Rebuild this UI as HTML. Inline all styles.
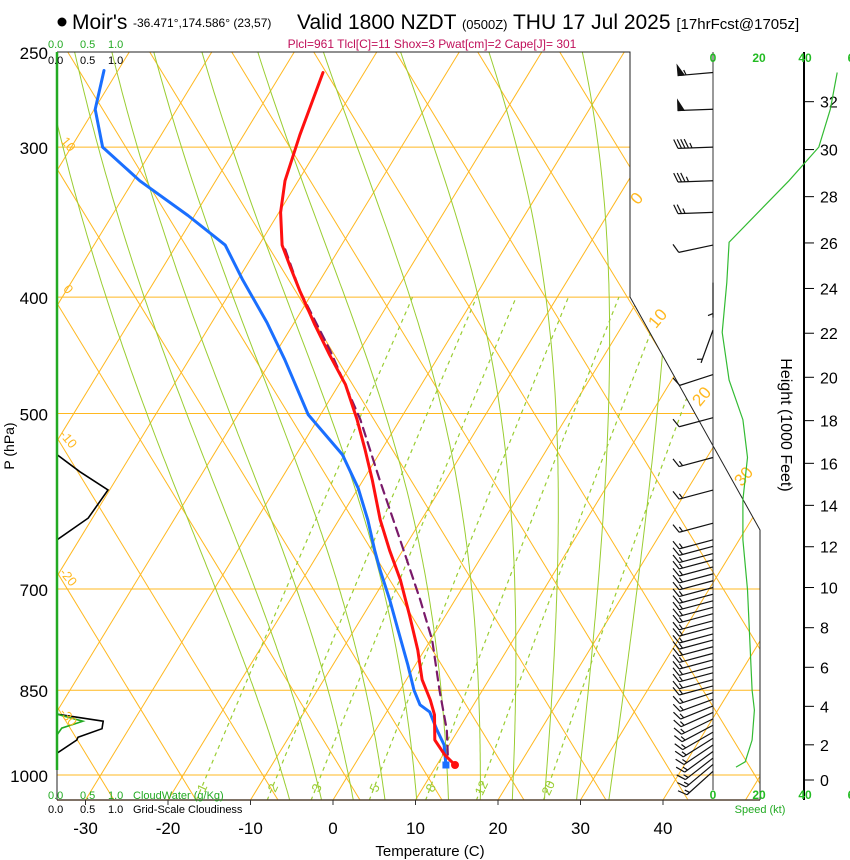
<!DOCTYPE html>
<html><head><meta charset="utf-8"><style>
html,body{margin:0;padding:0;background:#fff;}
svg{display:block;font-family:"Liberation Sans",Arial,sans-serif;}
</style></head><body>
<svg id="chart" width="850" height="860" viewBox="0 0 850 860" xmlns="http://www.w3.org/2000/svg">
<defs><clipPath id="plotclip"><polygon points="57,52 630,52 630,297 760,530 760,800 57,800"/></clipPath></defs>
<g>
<circle cx="62" cy="22" r="4.5" fill="#000"/>
<text x="72" y="29" font-size="21">Moir's</text>
<text x="133" y="27" font-size="12">-36.471°,174.586° (23,57)</text>
<text x="297" y="29" font-size="21">Valid 1800 NZDT <tspan font-size="13">(0500Z)</tspan> THU 17 Jul 2025 <tspan font-size="15">[17hrFcst@1705z]</tspan></text>
<text x="432" y="48" font-size="12" fill="#c0105a" text-anchor="middle">Plcl=961 Tlcl[C]=11 Shox=3 Pwat[cm]=2 Cape[J]= 301</text>
</g>
<g id="grid" clip-path="url(#plotclip)"></g>
<g id="series" clip-path="url(#plotclip)"></g>
<g id="frame">
<polyline points="57,52 630,52 630,297 760,530 760,800" fill="none" stroke="#222" stroke-width="1"/>
<line x1="57" y1="800" x2="760" y2="800" stroke="#543" stroke-width="1.5"/>
<line x1="57" y1="52" x2="57" y2="800" stroke="#222" stroke-width="1"/>
<line x1="57" y1="52" x2="57" y2="770" stroke="#22aa22" stroke-width="2.5"/>
</g>
<g id="labels">
<text x="8" y="440" font-size="14" transform="rotate(-90 14 440)" text-anchor="middle">P (hPa)</text>
<text x="430" y="856" font-size="15" text-anchor="middle">Temperature (C)</text>
<text x="781" y="425" font-size="16" transform="rotate(90 781 425)" text-anchor="middle">Height (1000 Feet)</text>
<g font-size="11" fill="#22aa22"><text x="48" y="48">0.0</text><text x="80" y="48">0.5</text><text x="108" y="48">1.0</text></g>
<g font-size="11" fill="#000"><text x="48" y="64">0.0</text><text x="80" y="64">0.5</text><text x="108" y="64">1.0</text></g>
<g font-size="11" fill="#22aa22"><text x="48" y="799">0.0</text><text x="80" y="799">0.5</text><text x="108" y="799">1.0</text><text x="133" y="799">CloudWater (g/Kg)</text></g>
<g font-size="11" fill="#000"><text x="48" y="813">0.0</text><text x="80" y="813">0.5</text><text x="108" y="813">1.0</text><text x="133" y="813">Grid-Scale Cloudiness</text></g>
<text x="760" y="813" font-size="11" fill="#22aa22" text-anchor="middle">Speed (kt)</text>
</g>
<g id="right"></g>
</svg>
<script>
// ---- data ----
const pressureTicks = [250, 300, 400, 500, 700, 850, 1000];
const tempTicks = [-30, -20, -10, 0, 10, 20, 30, 40];
const heightTicks = [0, 2, 4, 6, 8, 10, 12, 14, 16, 18, 20, 22, 24, 26, 28, 30, 32];
const speedTicks = [0, 20, 40, 60];
const mixingRatios = [1, 2, 3, 5, 8, 12, 20];
const moistThetaW = [-8, -4, 0, 4, 8, 12, 16, 20, 24, 28, 32];
const tempP = [260, 293, 320, 340, 362, 378, 395, 422, 447, 473, 506, 536, 568, 613, 650, 688, 736, 787, 833, 866, 891, 935, 962, 981];
const tempT = [-55.0, -53.2, -51.6, -49.8, -47.2, -44.5, -41.7, -37.3, -33.3, -29.2, -25.2, -22.0, -18.9, -15.0, -11.6, -8.1, -4.4, -0.8, 1.9, 4.4, 6.0, 7.9, 10.2, 12.2];
const dewP = [259, 279, 300, 320, 342, 362, 387, 420, 451, 501, 541, 577, 613, 650, 675, 715, 757, 810, 850, 874, 886, 917, 944, 981];
const dewT = [-81.7, -79.9, -76.2, -69.2, -60.8, -54.1, -49.4, -43.3, -38.4, -31.5, -24.4, -20.0, -16.5, -13.4, -11.3, -7.9, -4.7, -0.9, 1.7, 3.5, 5.2, 7.4, 9.4, 11.1];
const parcelP = [365, 395, 443, 506, 568, 637, 715, 772, 850, 917, 972];
const parcelT = [-46.5, -41.7, -33.6, -24.8, -18.0, -11.1, -4.2, 0.2, 4.8, 8.6, 11.0];
const speedP = [260, 279, 300, 320, 360, 389, 428, 469, 506, 544, 590, 637, 701, 772, 850, 883, 935, 975, 985];
const speedKt = [54, 51, 46, 33, 7, 6, 4, 7, 13, 15, 13, 13, 15, 16, 17, 18, 17, 14, 10];
const barbP = [260, 279, 300, 320, 340, 362, 389, 426, 464, 504, 544, 579, 617, 637, 645, 654, 662, 671, 680, 689, 698, 707, 716, 725, 734, 744, 753, 763, 772, 782, 792, 802, 812, 822, 833, 843, 854, 865, 876, 887, 898, 909, 921, 932, 944, 956, 968, 980, 993];
const barbDir = [265, 268, 268, 268, 268, 258, 180, 200, 252, 255, 255, 255, 255, 255, 255, 255, 255, 255, 255, 255, 255, 255, 255, 255, 255, 255, 255, 255, 255, 255, 255, 255, 255, 255, 255, 255, 252, 250, 248, 246, 244, 242, 240, 238, 236, 234, 232, 230, 228];
const barbKt = [55, 52, 45, 35, 25, 8, 5, 5, 8, 12, 15, 15, 15, 15, 15, 15, 15, 15, 15, 15, 15, 15, 15, 15, 15, 15, 15, 15, 15, 15, 15, 15, 15, 15, 15, 15, 15, 15, 15, 15, 15, 15, 15, 15, 15, 15, 15, 15, 15];
const cloudFracP = [541, 559, 579, 611, 637, 890, 902, 915, 930, 935, 959];
const cloudFrac = [0, 0.38, 0.85, 0.52, 0, 0, 0.77, 0.75, 0.35, 0.33, 0];
const cloudWaterP = [890, 902, 914, 926];
const cloudWater = [0, 0.43, 0.08, 0];

// ---- scales ----
const yP = p => 775 + 521.5 * Math.log(p / 1000);
const xT = (T, y) => 333 + 8.25 * T + 0.61 * (800 - y);
const xSpeed = s => 713 + 2.3 * s;
const xCloud = f => 57 + 60 * f;
const pFromH = kft => 1015 * Math.pow(1 - 2.25577e-5 * kft * 304.8, 5.2559);
const NS = 'http://www.w3.org/2000/svg';
function mk(parent, tag, attrs) {
  const e = document.createElementNS(NS, tag);
  for (const k in attrs) e.setAttribute(k, attrs[k]);
  parent.appendChild(e);
  return e;
}
const grid = document.getElementById('grid');
const series = document.getElementById('series');
const right = document.getElementById('right');
const labels = document.getElementById('labels');
const ORANGE = '#ffb820', GREEN = '#9acd32';

pressureTicks.forEach(p => {
  const y = yP(p);
  const l = mk(grid, 'line', {x1: 57, y1: y, x2: 760, y2: y, stroke: ORANGE, 'stroke-width': 1});
  
  
  const t = mk(labels, 'text', {x: 48, y: y + 7, 'font-size': 17, 'text-anchor': 'end'});
  t.textContent = p;
  
  
});
for (let T = -110; T <= 50; T += 10) {
  const l = mk(grid, 'line', {x1: xT(T, 800), y1: 800, x2: xT(T, 52), y2: 52, stroke: ORANGE, 'stroke-width': 1});
  
  
}
for (let k = -4; k <= 14; k++) {
  const c = 360 + 82 * k;
  const l = mk(grid, 'line', {x1: c, y1: 800, x2: c - 0.61 * 748, y2: 52, stroke: ORANGE, 'stroke-width': 1});
  
  
}
function tdFromE(e) { const L = Math.log(e / 6.112); return 243.5 * L / (17.67 - L); }
mixingRatios.forEach(w => {
  const pts = [];
  for (let p = 1050; p >= 400; p -= 10) {
    const e = w * p / (622 + w);
    const y = yP(p);
    pts.push(xT(tdFromE(e), y).toFixed(1) + ',' + y.toFixed(1));
  }
  const l = mk(grid, 'polyline', {points: pts.join(' '), fill: 'none', stroke: GREEN, 'stroke-width': 1.2, 'stroke-dasharray': '4,4'});
  
  
  const e = w * 1020 / (622 + w), y = yP(1020);
  const tx = xT(tdFromE(e), y);
  const t = mk(grid, 'text', {x: tx, y: 792, 'font-size': 13, fill: GREEN, transform: 'rotate(-65 ' + tx + ' 788)', 'text-anchor': 'middle'});
  t.textContent = w;
  
  
});
function rs(T, p) { const es = 6.112 * Math.exp(17.67 * (T - 273.15) / (T - 29.65)); return 0.622 * es / (p - es); }
function dTdp(T, p) { const r = rs(T, p); return (287 * T + 2.5e6 * r) / (p * (1005 + 2.5e6 * 2.5e6 * r * 0.622 / (287 * T * T))); }
moistThetaW.forEach(tw => {
  let Td = tw + 273.15, pts = [];
  for (let p = 1000; p < 1050; p += 5) { Td += dTdp(Td, p) * 5; }
  let T = Td;
  for (let p = 1050; p >= 250; p -= 5) {
    const y = yP(p);
    pts.push(xT(T - 273.15, y).toFixed(1) + ',' + y.toFixed(1));
    T -= dTdp(T, p) * 5;
  }
  const l = mk(grid, 'polyline', {points: pts.join(' '), fill: 'none', stroke: GREEN, 'stroke-width': 1});
  
  
});
[[10, 65, 147], [0, 65, 292], [-10, 65, 442], [-20, 65, 580], [-30, 65, 720]].forEach(a => {
  const t = mk(labels, 'text', {x: a[1], y: a[2], 'font-size': 13, fill: ORANGE, transform: 'rotate(50 ' + a[1] + ' ' + a[2] + ')', 'text-anchor': 'middle'});
  t.textContent = a[0];
  
  
});
[[0, 641, 202], [10, 662, 322], [20, 706, 400], [30, 748, 480]].forEach(a => {
  const t = mk(labels, 'text', {x: a[1], y: a[2], 'font-size': 17, fill: ORANGE, transform: 'rotate(-50 ' + a[1] + ' ' + a[2] + ')', 'text-anchor': 'middle'});
  t.textContent = a[0];
  
  
});
tempTicks.forEach(T => {
  const x = 333 + 8.25 * T;
  mk(labels, 'line', {x1: x, y1: 800, x2: x, y2: 805, stroke: '#333'});
  const t = mk(labels, 'text', {x: x, y: 834, 'font-size': 17, 'text-anchor': 'middle'});
  t.textContent = T;
  
  
});
function cloudLine(P, F, color, name) {
  const pts = P.map((p, i) => xCloud(F[i]).toFixed(1) + ',' + yP(p).toFixed(1));
  const l = mk(series, 'polyline', {points: pts.join(' '), fill: 'none', stroke: color, 'stroke-width': 1.6});
  
  
}
cloudLine(cloudFracP.slice(0, 5), cloudFrac.slice(0, 5), '#000', 'cloudiness-upper');
cloudLine(cloudFracP.slice(5), cloudFrac.slice(5), '#000', 'cloudiness-lower');
cloudLine(cloudWaterP, cloudWater, '#22aa22', 'cloud-water');
function profile(P, T, color, w, dash, name) {
  const pts = P.map((p, i) => { const y = yP(p); return xT(T[i], y).toFixed(1) + ',' + y.toFixed(1); });
  const a = {points: pts.join(' '), fill: 'none', stroke: color, 'stroke-width': w, 'stroke-linejoin': 'round', 'stroke-linecap': 'round'};
  if (dash) a['stroke-dasharray'] = dash;
  const l = mk(series, 'polyline', a);
  
  
}
profile(parcelP, parcelT, '#7a1a6a', 2.2, '9,6', 'parcel-trace');
profile(dewP, dewT, '#1a6fff', 3, null, 'dewpoint-line');
profile(tempP, tempT, '#ff1010', 3, null, 'temperature-line');
{
  const p = dewP[dewP.length - 1], y = yP(p);
  const r = mk(series, 'rect', {x: xT(dewT[dewT.length - 1], y) - 3.5, y: y - 3.5, width: 7, height: 7, fill: '#1a6fff'});
  
  
  const p2 = tempP[tempP.length - 1], y2 = yP(p2);
  const c = mk(series, 'circle', {cx: xT(tempT[tempT.length - 1], y2), cy: y2, r: 4, fill: '#ff1010'});
  
  
}
mk(right, 'line', {x1: 713, y1: 52, x2: 713, y2: 790, stroke: '#333', 'stroke-width': 1});
mk(right, 'line', {x1: 804, y1: 52, x2: 804, y2: 800, stroke: '#000', 'stroke-width': 2});
speedTicks.forEach(s => {
  const x = xSpeed(s);
  [62, 799].forEach(yy => {
    const t = mk(right, 'text', {x: x, y: yy, 'font-size': 12, 'font-weight': 'bold', fill: '#22bb22', 'text-anchor': 'middle'});
    t.textContent = s === 60 ? '6' : s;
    
    
  });
});
heightTicks.forEach(h => {
  const y = h === 0 ? 780 : yP(pFromH(h));
  mk(right, 'line', {x1: 804, y1: y, x2: 814, y2: y, stroke: '#000'});
  const t = mk(right, 'text', {x: 820, y: y + 6, 'font-size': 16});
  t.textContent = h;
  
  
});
{
  const pts = speedP.map((p, i) => xSpeed(speedKt[i]).toFixed(1) + ',' + yP(p).toFixed(1));
  const l = mk(right, 'polyline', {points: pts.join(' '), fill: 'none', stroke: '#33bb33', 'stroke-width': 1.2});
  
  
}
barbP.forEach((p, i) => {
  const y = yP(p), x = 713, L = 35;
  const d = barbDir[i] * Math.PI / 180;
  const ux = Math.sin(d), uy = -Math.cos(d);
  const px = -uy, py = ux;
  const g = mk(right, 'g', {stroke: '#111', 'stroke-width': 1.2, fill: '#111'});
  
  
  const tx = x + ux * L, ty = y + uy * L;
  mk(g, 'line', {x1: x, y1: y, x2: tx, y2: ty});
  let s = barbKt[i], pos = 0;
  while (s >= 48) {
    const bx = tx - ux * pos, by = ty - uy * pos;
    mk(g, 'polygon', {points: bx + ',' + by + ' ' + (bx - ux * 6) + ',' + (by - uy * 6) + ' ' + (bx + px * 10) + ',' + (by + py * 10)});
    pos += 8; s -= 50;
  }
  while (s >= 8) {
    const bx = tx - ux * pos, by = ty - uy * pos;
    mk(g, 'line', {x1: bx, y1: by, x2: bx + px * 9 + ux * 4, y2: by + py * 9 + uy * 4});
    pos += 3.5; s -= 10;
  }
  if (s >= 3) {
    if (pos === 0) pos = 4;
    const bx = tx - ux * pos, by = ty - uy * pos;
    mk(g, 'line', {x1: bx, y1: by, x2: bx + px * 5 + ux * 2, y2: by + py * 5 + uy * 2});
  }
});
</script>
</body></html>
